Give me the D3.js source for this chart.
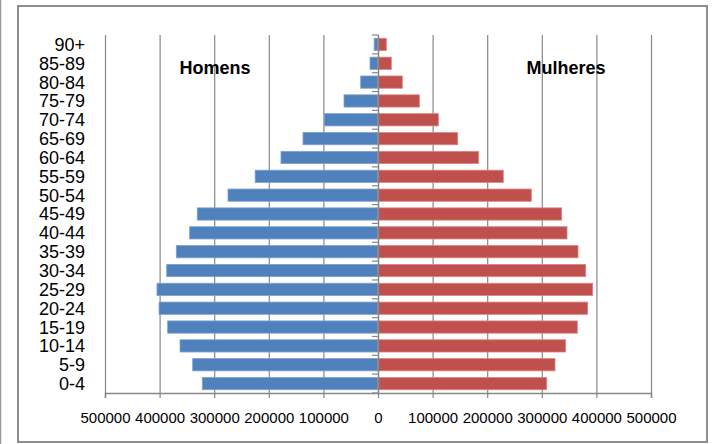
<!DOCTYPE html>
<html>
<head>
<meta charset="utf-8">
<script src="https://cdn.jsdelivr.net/npm/d3@7"></script>
<style>
  body { margin: 0; background: #fff; }
  svg { display: block; }
</style>
</head>
<body>
<script>
var width = 718,
    height = 444;

// age groups, bottom to top
var ages = ["0-4", "5-9", "10-14", "15-19", "20-24", "25-29", "30-34", "35-39", "40-44",
            "45-49", "50-54", "55-59", "60-64", "65-69", "70-74", "75-79", "80-84", "85-89", "90+"];
var homens = [321800, 339400, 362600, 385200, 401000, 404800, 387000, 369400, 345000,
              331000, 274700, 225000, 177700, 137400, 98300, 62300, 31700, 14600, 7000];
var mulheres = [309000, 324200, 343700, 365000, 384000, 393200, 380400, 366300, 346200,
                336400, 280800, 229500, 184400, 146000, 110500, 75700, 44500, 24400, 15200];
var xTicks = [-500000, -400000, -300000, -200000, -100000, 0, 100000, 200000, 300000, 400000, 500000];

var plot = { left: 105, right: 651, top: 35, bottom: 393 };
var axisColor = "#878787";
var font = "'Liberation Sans', Arial, sans-serif";

var svg = d3.select("body").append("svg")
    .attr("width", width)
    .attr("height", height);

// outer frames
svg.append("line")
    .attr("x1", 0.5).attr("x2", 0.5).attr("y1", 0).attr("y2", height)
    .attr("stroke", "#9a9a9a").attr("stroke-width", 1.5);
svg.append("rect")
    .attr("x", 18).attr("y", 6)
    .attr("width", 689).attr("height", 436)
    .attr("fill", "#fff")
    .attr("stroke", "#8e8e8e")
    .attr("stroke-width", 2);

var x = d3.scaleLinear()
    .domain([-500000, 500000])
    .range([plot.left, plot.right]);

var y = d3.scaleBand()
    .domain(ages.slice().reverse())
    .range([plot.top, plot.bottom])
    .paddingInner(0.35)
    .paddingOuter(0.175);

// vertical gridlines
svg.append("g").selectAll("line")
    .data(xTicks.filter(function(d) { return d !== 0; }))
    .enter().append("line")
    .attr("x1", function(d) { return x(d) + 0.5; })
    .attr("x2", function(d) { return x(d) + 0.5; })
    .attr("y1", plot.top)
    .attr("y2", plot.bottom)
    .attr("stroke", axisColor)
    .attr("stroke-width", 1.2);

// bars
svg.append("g").selectAll("rect")
    .data(ages)
    .enter().append("rect")
    .attr("x", function(d, i) { return x(-homens[i]); })
    .attr("y", function(d) { return y(d); })
    .attr("width", function(d, i) { return x(0) - x(-homens[i]); })
    .attr("height", y.bandwidth())
    .attr("fill", "#4f81bd")
    .attr("stroke", "#7ea1cf")
    .attr("stroke-width", 0.8);

svg.append("g").selectAll("rect")
    .data(ages)
    .enter().append("rect")
    .attr("x", x(0))
    .attr("y", function(d) { return y(d); })
    .attr("width", function(d, i) { return x(mulheres[i]) - x(0); })
    .attr("height", y.bandwidth())
    .attr("fill", "#c0504d")
    .attr("stroke", "#d98582")
    .attr("stroke-width", 0.8);

// bottom axis
var xAxis = d3.axisBottom(x)
    .tickValues(xTicks)
    .tickFormat(function(d) { return Math.abs(d); })
    .tickSize(5)
    .tickPadding(14);

var gx = svg.append("g")
    .attr("transform", "translate(0," + plot.bottom + ")")
    .call(xAxis);
gx.select(".domain").attr("stroke", axisColor).attr("stroke-width", 1.5);
gx.selectAll(".tick line").attr("stroke", axisColor).attr("stroke-width", 1.2);
gx.selectAll(".tick text")
    .attr("fill", "#000")
    .style("font-family", font)
    .style("font-size", "15px");

// zero axis with ticks at band boundaries
var step = y.step();
var bounds = d3.range(ages.length + 1).map(function(i) { return plot.top + i * step; });
svg.append("line")
    .attr("x1", x(0) + 0.5).attr("x2", x(0) + 0.5)
    .attr("y1", plot.top).attr("y2", plot.bottom)
    .attr("stroke", axisColor).attr("stroke-width", 1.5);
svg.append("g").selectAll("line")
    .data(bounds)
    .enter().append("line")
    .attr("x1", x(0) - 6).attr("x2", x(0) + 0.5)
    .attr("y1", function(d) { return d; })
    .attr("y2", function(d) { return d; })
    .attr("stroke", axisColor)
    .attr("stroke-width", 1.2);

// age labels
svg.append("g").selectAll("text")
    .data(ages)
    .enter().append("text")
    .attr("x", 85)
    .attr("y", function(d) { return y(d) + y.bandwidth() / 2; })
    .attr("dy", "0.36em")
    .attr("text-anchor", "end")
    .style("font-family", font)
    .style("font-size", "18px")
    .text(function(d) { return d; });

// series titles
svg.append("text")
    .attr("x", 215).attr("y", 74)
    .attr("text-anchor", "middle")
    .style("font-family", font)
    .style("font-size", "18px")
    .style("font-weight", "bold")
    .text("Homens");

svg.append("text")
    .attr("x", 566).attr("y", 74)
    .attr("text-anchor", "middle")
    .style("font-family", font)
    .style("font-size", "18px")
    .style("font-weight", "bold")
    .text("Mulheres");
</script>
</body>
</html>
